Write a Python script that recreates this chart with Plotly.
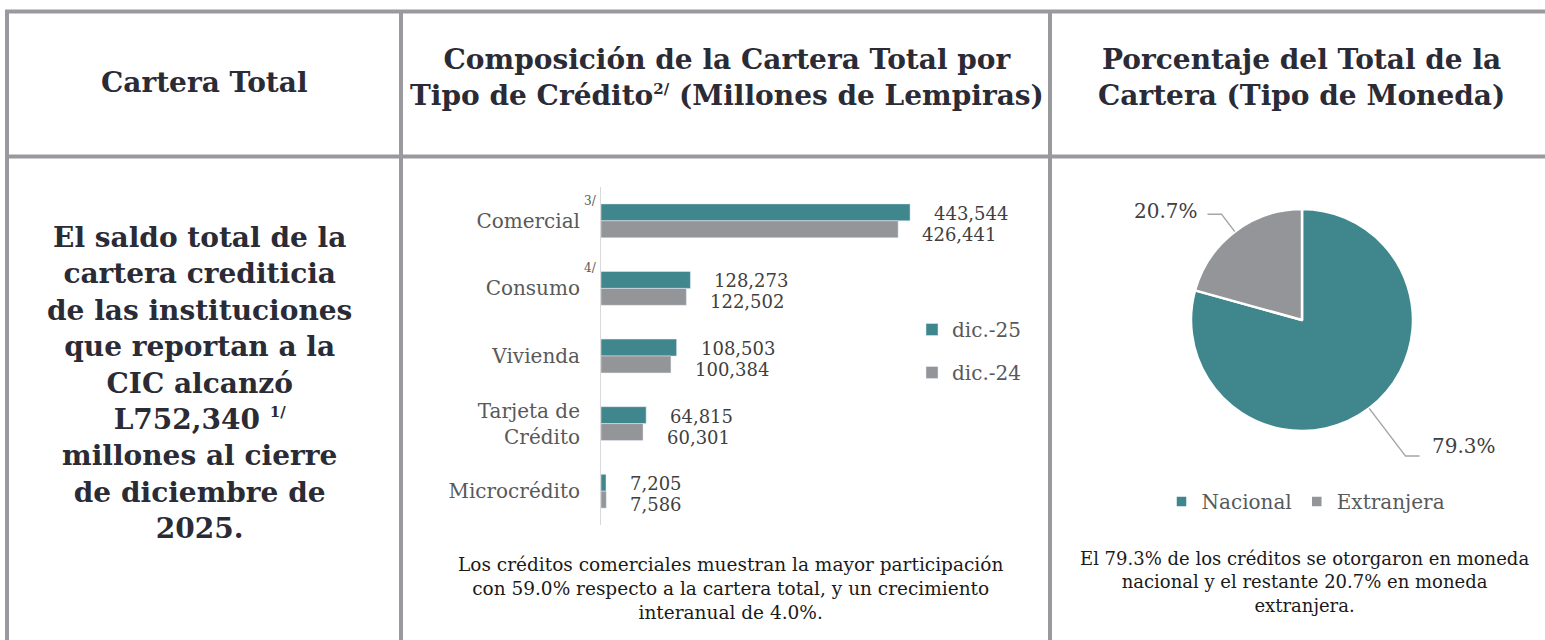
import math
import plotly.graph_objects as go

# ---------------- data ----------------
categories = ["Comercial", "Consumo", "Vivienda", "Tarjeta de<br>Crédito", "Microcrédito"]
dic25 = [443544, 128273, 108503, 64815, 7205]
dic24 = [426441, 122502, 100384, 60301, 7586]
series_names = ["dic.-25", "dic.-24"]
category_notes = ["3/", "4/", "", "", ""]
pie_labels = ["Nacional", "Extranjera"]
pie_values = [79.3, 20.7]

SUP = '<span style="font-size:15px">{}</span>'
header_left = "Cartera Total"
header_mid = ("Composición de la Cartera Total por<br>Tipo de Crédito<sup>" + SUP.format("2/")
              + "</sup> (Millones de Lempiras)")
header_right = "Porcentaje del Total de la<br>Cartera (Tipo de Moneda)"
body_left = ("El saldo total de la<br>cartera crediticia<br>de las instituciones<br>que reportan a la<br>"
             "CIC alcanzó<br>L752,340 <sup>" + SUP.format("1/") + "</sup><br>millones al cierre<br>"
             "de diciembre de<br>2025.")
note_mid = ("Los créditos comerciales muestran la mayor participación<br>"
            "con 59.0% respecto a la cartera total, y un crecimiento<br>interanual de 4.0%.")
note_right = ("El 79.3% de los créditos se otorgaron en moneda<br>"
              "nacional y el restante 20.7% en moneda<br>extranjera.")

# ---------------- style ----------------
W, H = 1545, 640
TEAL = "#3F878D"
GREY = "#939598"
BORDER = "#9A9A9E"
HEAD = "#2B2B36"
LABEL = "#595959"
SERIF = "DejaVu Serif"


def px(x):
    return x / W


def py(y):
    return 1 - y / H


fig = go.Figure()

fig.add_trace(go.Bar(y=categories, x=dic25, name=series_names[0], orientation="h",
                     marker=dict(color=TEAL), legend="legend", legendgroup="a",
                     hoverinfo="x"))
fig.add_trace(go.Bar(y=categories, x=dic24, name=series_names[1], orientation="h",
                     marker=dict(color=GREY), legend="legend", legendgroup="b",
                     hoverinfo="x"))

fig.add_trace(go.Pie(labels=pie_labels, values=pie_values, sort=False, direction="clockwise",
                     rotation=0, textinfo="none", hole=0,
                     marker=dict(colors=[TEAL, GREY], line=dict(color="white", width=2.5)),
                     domain=dict(x=[px(1191), px(1413)], y=[py(431), py(209)]),
                     legend="legend2"))

annotations = []
shapes = []

# value labels for bars
for vals, off, ysh in [(dic25, -0.125, -1), (dic24, 0.125, -5)]:
    for i, v in enumerate(vals):
        annotations.append(dict(xref="x", yref="y", x=v, y=i + off, text=f"{v:,}",
                                showarrow=False, xanchor="left", xshift=22, yshift=ysh,
                                font=dict(family=SERIF, size=18, color="#404040")))

# footnote markers next to category labels
for i, n in enumerate(category_notes):
    if n:
        annotations.append(dict(xref="paper", yref="y", x=px(582), y=i - 0.3, text=n,
                                showarrow=False, xanchor="left",
                                font=dict(family=SERIF, size=12, color=LABEL)))

# pie labels with leader lines
cx, cy, r = 1302, 320, 111
start = 90.0
tot = sum(pie_values)
leader = [(60, 1, 1430, 446), (22, -1, 1200, 211)]
for k, v in enumerate(pie_values):
    sweep = 360 * v / tot
    mid = start - sweep / 2
    start -= sweep
    a = math.radians(mid)
    ex, ey = cx + r * math.cos(a), cy - r * math.sin(a)
    d, side, tx, ty = leader[k]
    bx, by = ex + d * math.cos(a), ey - d * math.sin(a)
    hx = bx + side * 14
    shapes.append(dict(type="path", xref="paper", yref="paper",
                       path=f"M{px(ex)},{py(ey)} L{px(bx)},{py(by)} L{px(hx)},{py(by)}",
                       line=dict(color="#A6A6A6", width=1.5)))
    annotations.append(dict(xref="paper", yref="paper", x=px(tx), y=py(ty),
                            text=f"{v:.1f}%", showarrow=False,
                            xanchor="left" if side > 0 else "right", yanchor="middle",
                            font=dict(family=SERIF, size=20, color="#404040")))

# table text
annotations += [
    dict(x=px(204), y=py(83), text=f"<b>{header_left}</b>",
         font=dict(family=SERIF, size=28, color=HEAD)),
    dict(x=px(727), y=py(78), text=f"<b>{header_mid}</b>",
         font=dict(family=SERIF, size=28, color=HEAD)),
    dict(x=px(1301), y=py(77), text=f"<b>{header_right}</b>",
         font=dict(family=SERIF, size=28, color=HEAD)),
    dict(x=px(200), y=py(383), text=f"<b>{body_left}</b>",
         font=dict(family=SERIF, size=28, color=HEAD)),
    dict(x=px(730), y=py(588), text=note_mid,
         font=dict(family=SERIF, size=18.5, color="#1A1A1A")),
    dict(x=px(1304), y=py(582), text=note_right,
         font=dict(family=SERIF, size=18, color="#1A1A1A")),
]
for a in annotations[-6:]:
    a.update(xref="paper", yref="paper", showarrow=False, xanchor="center",
             yanchor="middle", align="center")

# table borders
bw = 4
for (x0, y0, x1, y1) in [(5, 11.5, W, 11.5), (5, 156.5, W, 156.5)]:
    shapes.append(dict(type="line", xref="paper", yref="paper", x0=px(x0), x1=px(x1),
                       y0=py(y0), y1=py(y1), line=dict(color=BORDER, width=bw)))
for xv in [7, 401, 1050]:
    shapes.append(dict(type="line", xref="paper", yref="paper", x0=px(xv), x1=px(xv),
                       y0=py(10), y1=py(H + 5), line=dict(color=BORDER, width=bw)))

fig.update_layout(
    width=W, height=H, margin=dict(l=0, r=0, t=0, b=0),
    paper_bgcolor="white", plot_bgcolor="white",
    barmode="group", bargap=0.5, bargroupgap=0,
    font=dict(family=SERIF, color=LABEL),
    xaxis=dict(domain=[px(601), px(1040)], range=[0, 630000], visible=False),
    yaxis=dict(domain=[py(525), py(187)], autorange="reversed", showline=True,
               linecolor="#D9D9D9", linewidth=1, showgrid=False, zeroline=False,
               ticks="", ticklabelstandoff=16,
               tickfont=dict(family=SERIF, size=20, color=LABEL)),
    legend=dict(x=px(912), y=py(310), xanchor="left", yanchor="top",
                tracegroupgap=14, bgcolor="rgba(0,0,0,0)",
                font=dict(family=SERIF, size=20, color=LABEL)),
    legend2=dict(orientation="h", x=px(1306), y=py(482), xanchor="center", yanchor="top",
                 bgcolor="rgba(0,0,0,0)",
                 font=dict(family=SERIF, size=20, color=LABEL)),
    annotations=annotations, shapes=shapes, showlegend=True,
)

fig.write_html("out.html", config={"displayModeBar": False},
               post_script="document.body.style.margin='0px';document.body.style.overflow='hidden';")
